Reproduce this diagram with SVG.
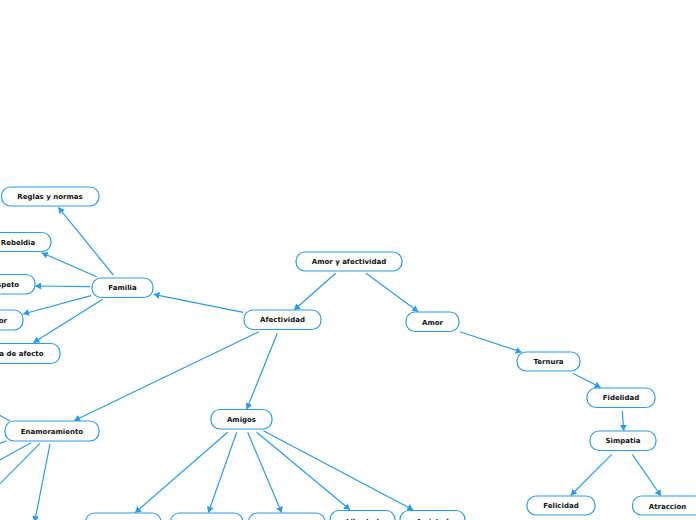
<svg xmlns="http://www.w3.org/2000/svg" width="696" height="520" viewBox="0 0 696 520">
<defs>
<marker id="ah" markerUnits="userSpaceOnUse" markerWidth="7" markerHeight="7" refX="6" refY="3.5" orient="auto">
<path d="M0,0 L6,3.5 L0,7 z" fill="#2d9be5"/>
</marker>
<style>
.n rect{fill:#fff;stroke:#2d9be5;stroke-width:1.2}
.n text{font-family:"DejaVu Sans","Verdana",sans-serif;font-weight:bold;font-size:7px;fill:#111;text-anchor:middle}
.c line{stroke:#2d9be5;stroke-width:1.2;fill:none}
.c .a{marker-end:url(#ah)}
</style>
</defs>
<rect width="696" height="520" fill="#fff"/>
<g id="connectors" class="c">
<line class="a" x1="335.7" y1="273.3" x2="294" y2="310"/>
<line class="a" x1="366" y1="273.3" x2="418.3" y2="311.7"/>
<line class="a" x1="460" y1="331.7" x2="521.7" y2="352.3"/>
<line class="a" x1="572.7" y1="373.3" x2="600.7" y2="387.5"/>
<line class="a" x1="622.3" y1="411" x2="623.7" y2="431"/>
<line class="a" x1="611.7" y1="454.3" x2="570.7" y2="495.5"/>
<line class="a" x1="632.3" y1="454.3" x2="661" y2="496"/>
<line class="a" x1="243.3" y1="312.3" x2="153.5" y2="294.3"/>
<line class="a" x1="259" y1="331.7" x2="74" y2="420.7"/>
<line class="a" x1="277.3" y1="333.3" x2="246.7" y2="409.3"/>
<line class="a" x1="113.3" y1="275" x2="58.3" y2="207.3"/>
<line class="a" x1="96.7" y1="276.7" x2="41.7" y2="252.7"/>
<line class="a" x1="90" y1="286.7" x2="35" y2="286"/>
<line class="a" x1="91" y1="295.7" x2="23" y2="314"/>
<line class="a" x1="102.7" y1="299.3" x2="33.3" y2="342.7"/>
<line x1="10" y1="421" x2="-20" y2="404"/>
<line x1="6.7" y1="440.7" x2="-20" y2="451"/>
<line x1="31" y1="442.7" x2="-20" y2="471"/>
<line x1="40" y1="443.3" x2="-20" y2="504"/>
<line class="a" x1="50" y1="444" x2="34.6" y2="522"/>
<line class="a" x1="227.7" y1="432.3" x2="135" y2="512.7"/>
<line class="a" x1="236.7" y1="432.3" x2="208.3" y2="512.7"/>
<line class="a" x1="247.7" y1="432.3" x2="281.7" y2="512.7"/>
<line class="a" x1="256.7" y1="432.3" x2="350" y2="509.8"/>
<line class="a" x1="263.3" y1="430.7" x2="413.3" y2="510"/>
</g>
<g id="root" class="n"><rect x="296" y="252" width="106" height="19" rx="9"/><text x="349" y="264">Amor y afectividad</text></g>
<g id="afectividad" class="n"><rect x="244" y="310" width="77" height="19.5" rx="9"/><text x="282.5" y="322.3">Afectividad</text></g>
<g id="amor" class="n"><rect x="406" y="312" width="53" height="19.5" rx="9"/><text x="432.5" y="324.5">Amor</text></g>
<g id="ternura" class="n"><rect x="517" y="352" width="63" height="19" rx="9"/><text x="548.5" y="364">Ternura</text></g>
<g id="fidelidad" class="n"><rect x="587" y="388" width="68" height="19.5" rx="9"/><text x="621" y="400">Fidelidad</text></g>
<g id="simpatia" class="n"><rect x="590" y="431" width="66" height="19.5" rx="9"/><text x="623" y="443.3">Simpatia</text></g>
<g id="felicidad" class="n"><rect x="527" y="496" width="68" height="19" rx="9"/><text x="561" y="508">Felicidad</text></g>
<g id="atraccion" class="n"><rect x="632.5" y="496" width="71" height="19" rx="9"/><text x="667.5" y="508.5">Atraccion</text></g>
<g id="familia" class="n"><rect x="92" y="278" width="61" height="19.5" rx="9"/><text x="122.5" y="290.3">Familia</text></g>
<g id="reglas" class="n"><rect x="1.5" y="187" width="97.5" height="19" rx="9"/><text x="50" y="199">Reglas y normas</text></g>
<g id="rebeldia" class="n"><rect x="-15" y="232.5" width="66" height="19" rx="9"/><text x="18" y="244.5">Rebeldia</text></g>
<g id="respeto" class="n"><rect x="-41" y="274.5" width="76" height="19.5" rx="9"/><text x="3" y="286.8">Respeto</text></g>
<g id="amor-familia" class="n"><rect x="-30" y="310" width="53" height="20" rx="9"/><text x="-3.5" y="322.5">Amor</text></g>
<g id="afecto" class="n"><rect x="-32" y="343.5" width="92" height="20" rx="9"/><text x="14" y="356">Falta de afecto</text></g>
<g id="enamoramiento" class="n"><rect x="5" y="421" width="94" height="20" rx="9"/><text x="52" y="433.5">Enamoramiento</text></g>
<g id="amigos" class="n"><rect x="211" y="409.5" width="61" height="19.5" rx="9"/><text x="241.5" y="421.8">Amigos</text></g>
<g id="amigo-1" class="n"><rect x="85.5" y="513" width="75.5" height="24" rx="9"/></g>
<g id="amigo-2" class="n"><rect x="170.5" y="513" width="72.5" height="24" rx="9"/></g>
<g id="amigo-3" class="n"><rect x="248.5" y="513" width="76.5" height="24" rx="9"/></g>
<g id="libertad" class="n"><rect x="330" y="510.5" width="65" height="30" rx="9"/><text x="362.5" y="523.8">Libertad</text></g>
<g id="amistad" class="n"><rect x="400" y="510.5" width="65" height="30" rx="9"/><text x="432.5" y="523.8">Amistad</text></g>
</svg>
